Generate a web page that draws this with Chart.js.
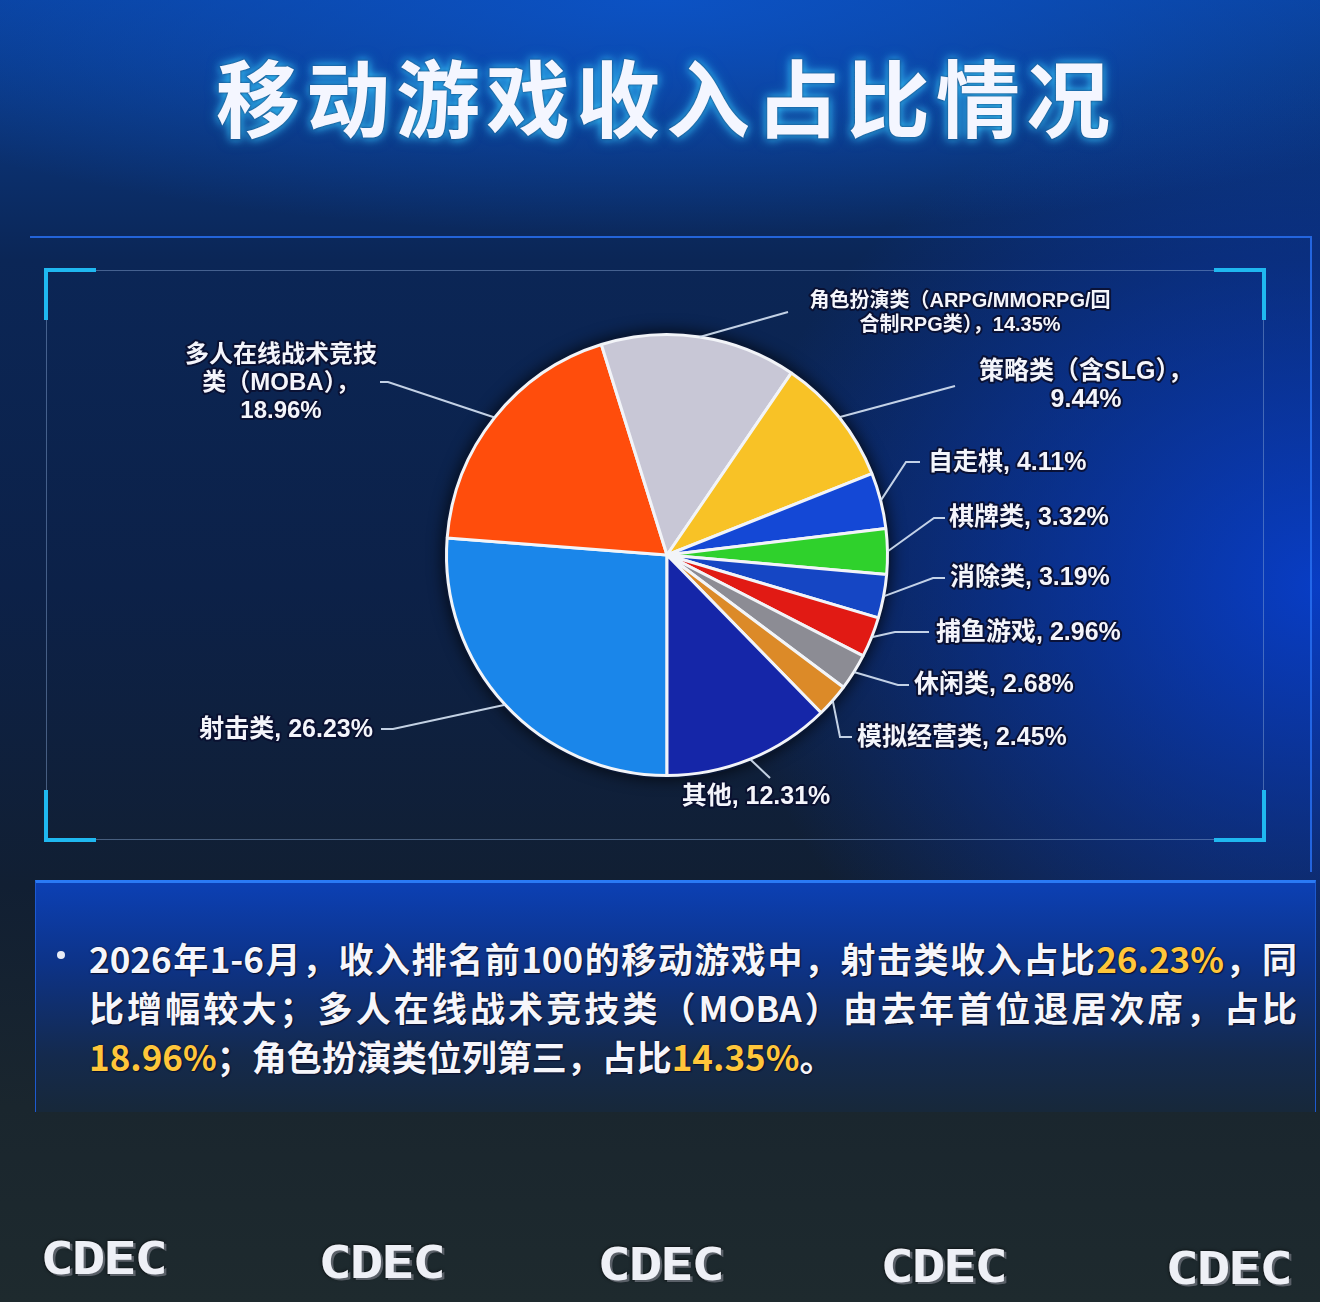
<!DOCTYPE html>
<html>
<head>
<meta charset="utf-8">
<script src="https://cdn.jsdelivr.net/npm/chart.js@4/dist/chart.umd.min.js"></script>
<style>
  html, body { margin: 0; padding: 0; }
  body {
    width: 1320px; height: 1302px; position: relative; overflow: hidden;
    font-family: "Noto Sans CJK SC", "Liberation Sans", sans-serif;
    background:
      radial-gradient(ellipse 45% 40% at 100% 45%, rgba(8, 64, 210, 0.9), rgba(8, 64, 210, 0) 100%),
      radial-gradient(ellipse 70% 18% at 50% 0%, rgba(12, 84, 200, 0.9), rgba(12, 84, 200, 0) 100%),
      linear-gradient(180deg, #0a4099 0%, #0b3478 9%, #0b2656 20%, #0c2148 45%, #111f33 68%, #1a262e 85%, #1e2a2e 100%);
  }
  #title {
    position: absolute; left: 0; top: 34px; width: 1332px; text-align: center;
    font-size: 84px; font-weight: 700; letter-spacing: 6px; color: #f4f6ff;
    text-shadow: 0 0 3px #0a2a60, 0 0 8px #38c8ff, 0 0 14px rgba(56, 200, 255, 0.6);
  }
  #outer {
    position: absolute; left: 30px; top: 236px; width: 1280px; height: 634px;
    border-top: 2px solid rgba(40, 110, 240, 0.85); border-right: 2px solid rgba(40, 110, 240, 0.85);
  }
  #frame {
    position: absolute; left: 46px; top: 270px; width: 1216px; height: 568px;
    border: 1px solid rgba(140, 170, 215, 0.45);
  }
  .corner { position: absolute; width: 48px; height: 48px; border-color: #1fb8f0; border-style: solid; border-width: 0; }
  .tl { left: -3px; top: -3px; border-top-width: 4px; border-left-width: 4px; }
  .tr { right: -3px; top: -3px; border-top-width: 4px; border-right-width: 4px; }
  .bl { left: -3px; bottom: -3px; border-bottom-width: 4px; border-left-width: 4px; }
  .br { right: -3px; bottom: -3px; border-bottom-width: 4px; border-right-width: 4px; }
  #pie { position: absolute; left: 0; top: 240px; }
  #note {
    position: absolute; left: 35px; top: 880px; width: 1281px; height: 232px; box-sizing: border-box;
    background: linear-gradient(180deg, #0c40b4 0%, #0d3388 35%, #142a4e 75%, #17283a 100%);
    border-top: 3px solid #2a7af5; border-left: 1px solid #1d5ad0; border-right: 1px solid #1d5ad0;
    padding: 50px 20px 0 53px;
  }
  #note .line {
    font-size: 35px; font-weight: 700; line-height: 49px; color: #f6f6fb; white-space: nowrap;
    text-shadow: 0 0 2px #0a1230, 1px 1px 1px #0a1230;
  }
  #note .just { text-align: justify; text-align-last: justify; width: 1208px; }
  #note .hl { color: #ffc63a; }
  #bullet { position: absolute; left: 21px; top: 68px; width: 8px; height: 8px; border-radius: 50%; background: #e8ecf6; }
  .logo {
    position: absolute; top: 1232px; width: 150px; text-align: center;
    font-family: "DejaVu Sans Mono", monospace; font-weight: 700; font-size: 46px; color: #eef0f6;
    transform: scale(1.22, 0.95); letter-spacing: -2px;
    text-shadow: 2px 2px 0 #5a6068, 0 0 3px #000;
  }
</style>
</head>
<body>
<div id="title">移动游戏收入占比情况</div>
<div id="outer"></div>
<div id="frame">
  <div class="corner tl"></div><div class="corner tr"></div>
  <div class="corner bl"></div><div class="corner br"></div>
</div>
<canvas id="pie" width="1320" height="640"></canvas>
<div id="note">
  <div id="bullet"></div>
  <div class="line just">2026年1-6月，收入排名前100的移动游戏中，射击类收入占比<span class="hl">26.23%</span>，同</div>
  <div class="line just">比增幅较大；多人在线战术竞技类（MOBA）由去年首位退居次席，占比</div>
  <div class="line"><span class="hl">18.96%</span>；角色扮演类位列第三，占比<span class="hl">14.35%</span>。</div>
</div>
<div class="logo" style="left:28px">CDEC</div>
<div class="logo" style="left:306px;top:1236px">CDEC</div>
<div class="logo" style="left:585px;top:1238px">CDEC</div>
<div class="logo" style="left:868px;top:1240px">CDEC</div>
<div class="logo" style="left:1153px;top:1242px">CDEC</div>
<script>
// 数据：顺时针，从 6 点钟方向开始
const categories = ['射击类', '多人在线战术竞技类（MOBA）', '角色扮演类（ARPG/MMORPG/回合制RPG类）',
  '策略类（含SLG）', '自走棋', '棋牌类', '消除类', '捕鱼游戏', '休闲类', '模拟经营类', '其他'];
const shares = [26.23, 18.96, 14.35, 9.44, 4.11, 3.32, 3.19, 2.96, 2.68, 2.45, 12.31];
const sliceColors = ['#1a86ea', '#ff4d0c', '#c8c7d6', '#f8c226', '#1448d6', '#2fd12c',
  '#1546c4', '#e11a14', '#8c8c94', '#dc8a28', '#1526a8'];

// 标签换行（名称中的断行位置），其余为单行 "名称, xx%"
function labelLines(i) {
  const pct = shares[i].toFixed(2) + '%';
  if (i === 1) return ['多人在线战术竞技', '类（MOBA），', pct];
  if (i === 2) return ['角色扮演类（ARPG/MMORPG/回', '合制RPG类），' + pct];
  if (i === 3) return ['策略类（含SLG），', pct];
  return [categories[i] + ', ' + pct];
}

// 标签位置（页面坐标）：折点 e、引线末端 t、文字位置
const TOP = 240;
const labelLayout = [
  { e: [393, 729], t: [381, 729], x: 373, y: 730, align: 'right', size: 25 },
  { e: [388, 382], t: [380, 382], x: 281, y: 355, align: 'center', size: 24, gap: 28 },
  { e: [788, 312], t: [788, 312], x: 960, y: 301, align: 'center', size: 20, gap: 24 },
  { e: [955, 386], t: [955, 386], x: 1086, y: 372, align: 'center', size: 25, gap: 28 },
  { e: [906, 462], t: [920, 462], x: 928, y: 463, align: 'left', size: 25 },
  { e: [934, 518], t: [945, 518], x: 949, y: 518, align: 'left', size: 25 },
  { e: [933, 578], t: [945, 578], x: 950, y: 578, align: 'left', size: 25 },
  { e: [895, 632], t: [929, 632], x: 936, y: 633, align: 'left', size: 25 },
  { e: [898, 685], t: [909, 685], x: 914, y: 685, align: 'left', size: 25 },
  { e: [840, 737], t: [852, 737], x: 857, y: 738, align: 'left', size: 25 },
  { e: [770, 778], t: [770, 778], x: 756, y: 797, align: 'center', size: 25 }
];

const pieShadow = {
  id: 'pieShadow',
  beforeDatasetsDraw(chart) {
    const arc = chart.getDatasetMeta(0).data[0];
    const { ctx } = chart;
    ctx.save();
    ctx.shadowColor = 'rgba(0, 0, 0, 0.75)';
    ctx.shadowBlur = 16;
    ctx.fillStyle = '#0a1836';
    ctx.beginPath();
    ctx.arc(arc.x, arc.y, arc.outerRadius + 3, 0, Math.PI * 2);
    ctx.fill();
    ctx.restore();
  }
};

const leaderLabels = {
  id: 'leaderLabels',
  afterDatasetsDraw(chart) {
    const { ctx } = chart;
    chart.getDatasetMeta(0).data.forEach((arc, i) => {
      const L = labelLayout[i];
      const mid = (arc.startAngle + arc.endAngle) / 2;
      const ax = arc.x + Math.cos(mid) * arc.outerRadius;
      const ay = arc.y + Math.sin(mid) * arc.outerRadius;
      ctx.save();
      ctx.strokeStyle = 'rgba(215, 228, 245, 0.9)';
      ctx.lineWidth = 2;
      ctx.beginPath();
      ctx.moveTo(ax, ay);
      ctx.lineTo(L.e[0], L.e[1] - TOP);
      ctx.lineTo(L.t[0], L.t[1] - TOP);
      ctx.stroke();

      ctx.font = `bold ${L.size}px "Liberation Sans", "Noto Sans CJK SC", sans-serif`;
      ctx.textAlign = L.align;
      ctx.textBaseline = 'middle';
      ctx.lineJoin = 'round';
      labelLines(i).forEach((s, k) => {
        const y = L.y - TOP + k * (L.gap || 0);
        ctx.strokeStyle = 'rgba(10, 16, 48, 0.9)';
        ctx.lineWidth = 4;
        ctx.strokeText(s, L.x, y);
        ctx.fillStyle = '#f4f5fb';
        ctx.fillText(s, L.x, y);
      });
      ctx.restore();
    });
  }
};

new Chart(document.getElementById('pie'), {
  type: 'pie',
  data: {
    labels: categories,
    datasets: [{
      data: shares,
      backgroundColor: sliceColors,
      borderColor: '#f2f4f8',
      borderWidth: 3
    }]
  },
  options: {
    responsive: false,
    animation: false,
    rotation: 180,
    layout: { padding: { left: 445, right: 431, top: 93, bottom: 103 } },
    plugins: {
      legend: { display: false },
      tooltip: { enabled: false }
    }
  },
  plugins: [pieShadow, leaderLabels]
});
</script>
</body>
</html>
